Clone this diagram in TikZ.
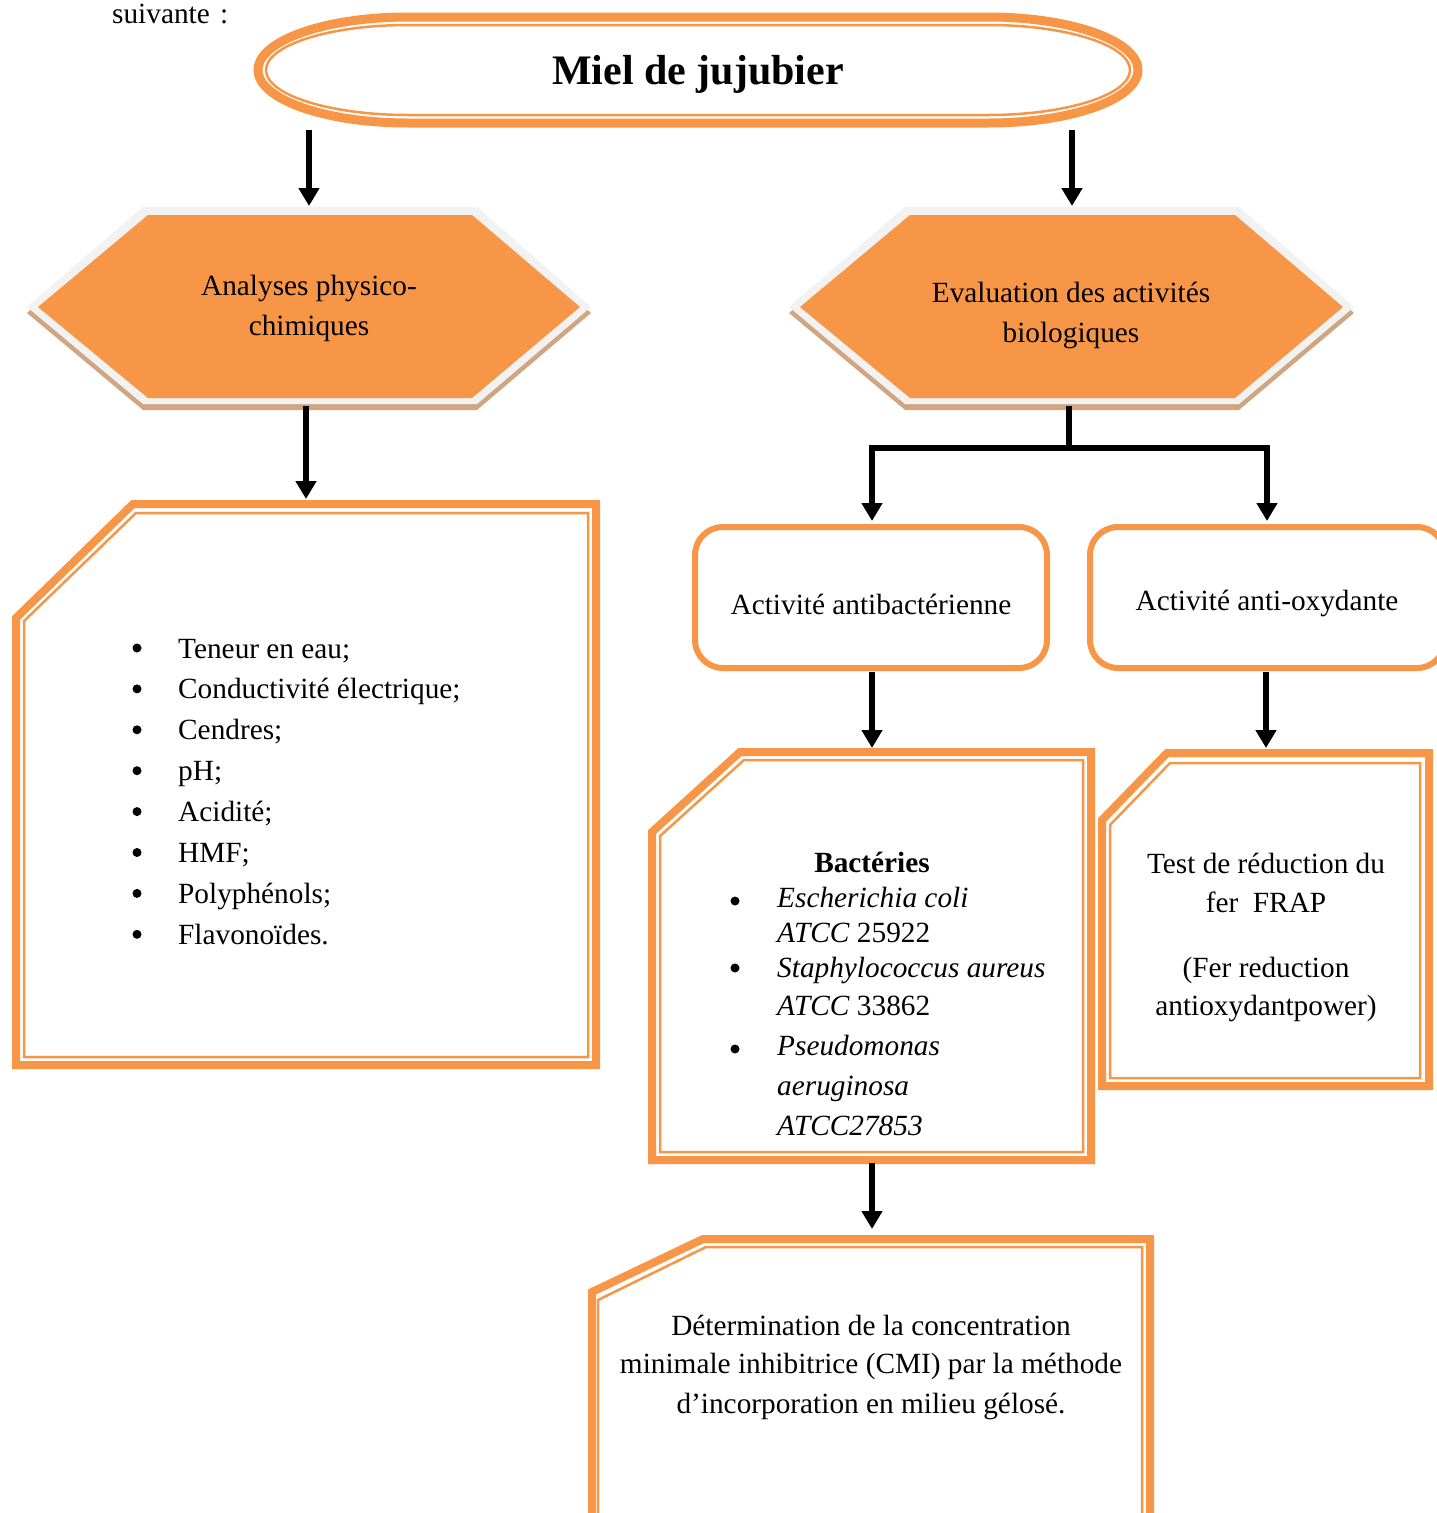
\documentclass[tikz,border=0pt]{standalone}
\usepackage{fontspec}
\setmainfont{Liberation Serif}
\usetikzlibrary{arrows.meta,shapes.geometric}
\definecolor{org}{HTML}{F79646}
\definecolor{hexgray}{HTML}{F2F2F2}
\definecolor{hextan}{HTML}{D2A582}
\begin{document}
\begin{tikzpicture}[x=1pt,y=-1pt,
  txt/.style={font=\fontsize{29.3}{40}\selectfont, inner sep=0pt, anchor=base},
  ctxt/.style={txt},
  ltxt/.style={txt, anchor=base west},
  thickb/.style={draw=org, line width=8pt},
  thinb/.style={draw=org, line width=2.5pt},
  arr/.style={line width=5.5pt, -{Triangle[width=20pt,length=18pt]}},
  conn/.style={line width=5.5pt},
  rbox/.style={draw=org, line width=6pt, rounded corners=28pt}]
\clip (0,0) rectangle (1437,1513);
\fill[white] (0,0) rectangle (1437,1513);

% top text
\node[ltxt] (suiv) at (112,23) {suivante\hspace{0.35em}:};

% title rounded ellipse
\draw[org, line width=9pt] (408,17) -- (988,17)
  arc[start angle=-90, end angle=90, x radius=150, y radius=53]
  -- (408,123)
  arc[start angle=90, end angle=270, x radius=150, y radius=53] -- cycle;
\draw[org, line width=2.5pt] (408,25) -- (988,25)
  arc[start angle=-90, end angle=90, x radius=142, y radius=45]
  -- (408,115)
  arc[start angle=90, end angle=270, x radius=142, y radius=45] -- cycle;
\node[txt, font=\fontsize{42}{48}\selectfont\bfseries] (title) at (698,84) {Miel de jujubier};

% left hexagon
\fill[hextan] (27,313)--(143,213)--(477,213)--(591,313)--(477,410)--(143,410)--cycle;
\fill[hexgray] (27,307)--(143,207)--(477,207)--(591,307)--(477,404)--(143,404)--cycle;
\fill[org] (38,307)--(148,215)--(472,215)--(580,307)--(472,398)--(148,398)--cycle;
\node[ctxt] (hexL1) at (309,295) {Analyses physico-};
\node[ctxt] (hexL2) at (309,335) {chimiques};

% right hexagon
\fill[hextan] (789,313)--(905,213)--(1239,213)--(1354,313)--(1239,410)--(905,410)--cycle;
\fill[hexgray] (789,307)--(905,207)--(1239,207)--(1354,307)--(1239,404)--(905,404)--cycle;
\fill[org] (800,307)--(910,215)--(1235,215)--(1343,307)--(1235,398)--(910,398)--cycle;
\node[ctxt] (hexR1) at (1071,302) {Evaluation des activités};
\node[ctxt] (hexR2) at (1071,342) {biologiques};

% left box
\draw[thickb] (133,504)--(596,504)--(596,1065)--(16,1065)--(16,618)--cycle;
\draw[thinb] (136,513)--(588,513)--(588,1057)--(24,1057)--(24,621)--cycle;
\foreach \t [count=\i] in {Teneur en eau;,Conductivité électrique;,Cendres;,pH;,Acidité;,HMF;,Polyphénols;,Flavonoïdes.}{
  \fill (137,{648+40.9*(\i-1)}) circle [radius=4.5];
  \node[ltxt] (li\i) at (178,{658+40.9*(\i-1)}) {\t};
}

% rounded boxes
\draw[rbox] (695,527) rectangle (1047,668);
\node[ctxt] (antibac) at (871,614) {Activité antibactérienne};
\draw[rbox] (1090,527) rectangle (1445,668);
\node[ctxt] (antiox) at (1267,610) {Activité anti-oxydante};

% bacteria box
\draw[thickb] (740,752)--(1091,752)--(1091,1160)--(652,1160)--(652,832)--cycle;
\draw[thinb] (744,760)--(1083,760)--(1083,1152)--(660,1152)--(660,836)--cycle;
\node[ctxt, font=\fontsize{29.3}{40}\selectfont\bfseries] (bact) at (872,872) {Bactéries};
\fill (735,901) circle [radius=4.5];
\fill (735,968) circle [radius=4.5];
\fill (735,1049) circle [radius=4.5];
\node[ltxt] (b1) at (777,907) {\itshape Escherichia coli};
\node[ltxt] (b2) at (777,942) {\textit{ATCC} 25922};
\node[ltxt] (b3) at (777,977) {\itshape Staphylococcus aureus};
\node[ltxt] (b4) at (777,1015) {\textit{ATCC} 33862};
\node[ltxt] (b5) at (777,1055) {\itshape Pseudomonas};
\node[ltxt] (b6) at (777,1095) {\itshape aeruginosa};
\node[ltxt] (b7) at (777,1135) {\itshape ATCC27853};

% FRAP box
\draw[thickb] (1167,753)--(1429,753)--(1429,1086)--(1102,1086)--(1102,820)--cycle;
\draw[thinb] (1170,763)--(1420,763)--(1420,1078)--(1110,1078)--(1110,825)--cycle;
\node[ctxt] (f1) at (1266,873) {Test de réduction du};
\node[ctxt] (f2) at (1266,912) {fer\ \ FRAP};
\node[ctxt] (f3) at (1266,977) {(Fer reduction};
\node[ctxt] (f4) at (1266,1015) {antioxydantpower)};

% CMI box
\draw[thickb] (703,1239)--(1150,1239)--(1150,1540)--(592,1540)--(592,1292)--cycle;
\draw[thinb] (706,1247)--(1142,1247)--(1142,1540)--(598,1540)--(598,1300)--cycle;
\node[ctxt] (c1) at (871,1335) {Détermination de la concentration};
\node[ctxt] (c2) at (871,1373) {minimale inhibitrice (CMI) par la méthode};
\node[ctxt] (c3) at (871,1413) {d’incorporation en milieu gélosé.};

% connector end points
\coordinate (tL) at (309,130);
\coordinate (hLn) at (309,206);
\coordinate (tR) at (1072,130);
\coordinate (hRn) at (1072,206);
\coordinate (hLs) at (306,406);
\coordinate (lbn) at (306,499);
\coordinate (hRs) at (1069,406);
\coordinate (jn) at (1069,448);
\coordinate (jl) at (872,448);
\coordinate (jr) at (1267,448);
\coordinate (abn) at (872,521);
\coordinate (aon) at (1267,521);
\coordinate (abs) at (872,672);
\coordinate (bxn) at (872,748);
\coordinate (aos) at (1266,672);
\coordinate (fxn) at (1266,748);
\coordinate (bxs) at (872,1163);
\coordinate (cxn) at (872,1229);

\draw[arr] (tL) -- (hLn);
\draw[arr] (tR) -- (hRn);
\draw[arr] (hLs) -- (lbn);
\draw[conn] (hRs) -- (jn);
\draw[conn, line cap=rect] (jl) -- (jr);
\draw[arr] (jl) -- (abn);
\draw[arr] (jr) -- (aon);
\draw[arr] (abs) -- (bxn);
\draw[arr] (aos) -- (fxn);
\draw[arr] (bxs) -- (cxn);
\end{tikzpicture}
\end{document}
